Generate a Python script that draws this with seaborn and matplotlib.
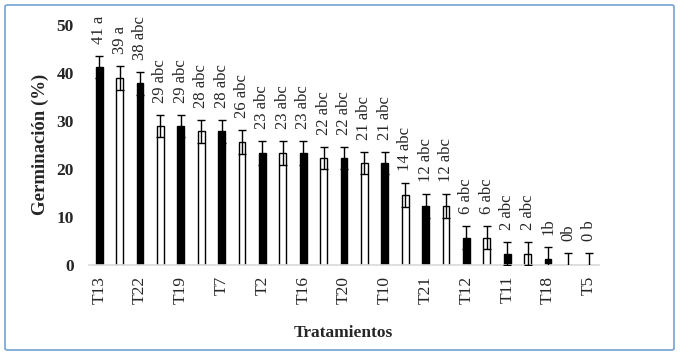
import matplotlib
matplotlib.use('Agg')
import matplotlib.pyplot as plt
import seaborn as sns
import pandas as pd
from matplotlib.patches import FancyBboxPatch

# datos
germinacion = [41.1, 38.9, 37.8, 28.9, 28.9, 27.8, 27.8, 25.6, 23.3, 23.3, 23.3, 22.2, 22.2,
               21.1, 21.1, 14.4, 12.2, 12.2, 5.6, 5.6, 2.2, 2.2, 1.1, 0.0, 0.0]
error = [2.3, 2.5, 2.4, 2.3, 2.3, 2.4, 2.4, 2.5, 2.5, 2.5, 2.5, 2.3, 2.3,
         2.3, 2.3, 2.5, 2.5, 2.5, 2.4, 2.4, 2.4, 2.4, 2.5, 2.5, 2.5]
etiquetas = ["41 a", "39 a", "38 abc", "29 abc", "29 abc", "28 abc", "28 abc", "26 abc",
             "23 abc", "23 abc", "23 abc", "22 abc", "22 abc", "21 abc", "21 abc", "14 abc",
             "12 abc", "12 abc", "6 abc", "6 abc", "2 abc", "2 abc", "1b", "0b", "0 b"]
grupo = ["negro" if i % 2 == 0 else "blanco" for i in range(len(germinacion))]
tratamientos = ["T13", "T22", "T19", "T7", "T2", "T16", "T20", "T10", "T21", "T12", "T11", "T18", "T5"]

df = pd.DataFrame({
    'pos': range(len(germinacion)),
    'Germinacion': germinacion,
    'Grupo': grupo,
})

sns.set_style('white')
plt.rcParams['font.family'] = ['Liberation Serif', 'DejaVu Serif']

fig = plt.figure(figsize=(6.8, 3.55), dpi=100)
ax = fig.add_axes([0.1309, 0.2549, 0.75, 0.676])

sns.barplot(
    data=df, x='pos', y='Germinacion', hue='Grupo',
    palette={'negro': 'black', 'blanco': 'white'},
    dodge=False, legend=False, errorbar=None,
    width=0.34, edgecolor='black', linewidth=1.0, ax=ax
)

ax.errorbar(df['pos'], germinacion, yerr=error, fmt='none', ecolor='black',
            elinewidth=1.0, capsize=2.6, capthick=1.0, zorder=5)

for i, (v, e, t) in enumerate(zip(germinacion, error, etiquetas)):
    ax.text(i, v + e + 2.5, t, rotation=90, ha='center', va='bottom',
            fontsize=12, clip_on=False)

ax.set_xlim(-0.5, len(germinacion) - 0.5)
ax.set_ylim(0, 50)
ax.set_yticks([0, 10, 20, 30, 40, 50])
ax.set_yticklabels(['0', '10', '20', '30', '40', '50'], fontweight='bold', fontsize=12.5)
ax.set_xticks(range(0, len(germinacion), 2))
ax.set_xticklabels(tratamientos, rotation=90, fontsize=12.5)
ax.tick_params(axis='y', length=0, pad=11)
ax.tick_params(axis='x', length=0, pad=8)

for s in ['top', 'right', 'left']:
    ax.spines[s].set_visible(False)
ax.spines['bottom'].set_color('#d9d9d9')
ax.spines['bottom'].set_linewidth(1.2)

ax.set_ylabel('Germinación (%)', fontweight='bold', fontsize=13.5, labelpad=5)
ax.set_xlabel('')
fig.text(343 / 680, 1 - 333 / 355, 'Tratamientos', ha='center', va='center',
         fontweight='bold', fontsize=12.5)

# marco exterior
marco = FancyBboxPatch((5 / 680, 5 / 355), 669 / 680, 345 / 355,
                       boxstyle='round,pad=0,rounding_size=0.004',
                       transform=fig.transFigure, fill=False,
                       edgecolor='#7fa9d6', linewidth=1.3)
fig.patches.append(marco)

fig.savefig('out.png', dpi=100)
plt.close(fig)
